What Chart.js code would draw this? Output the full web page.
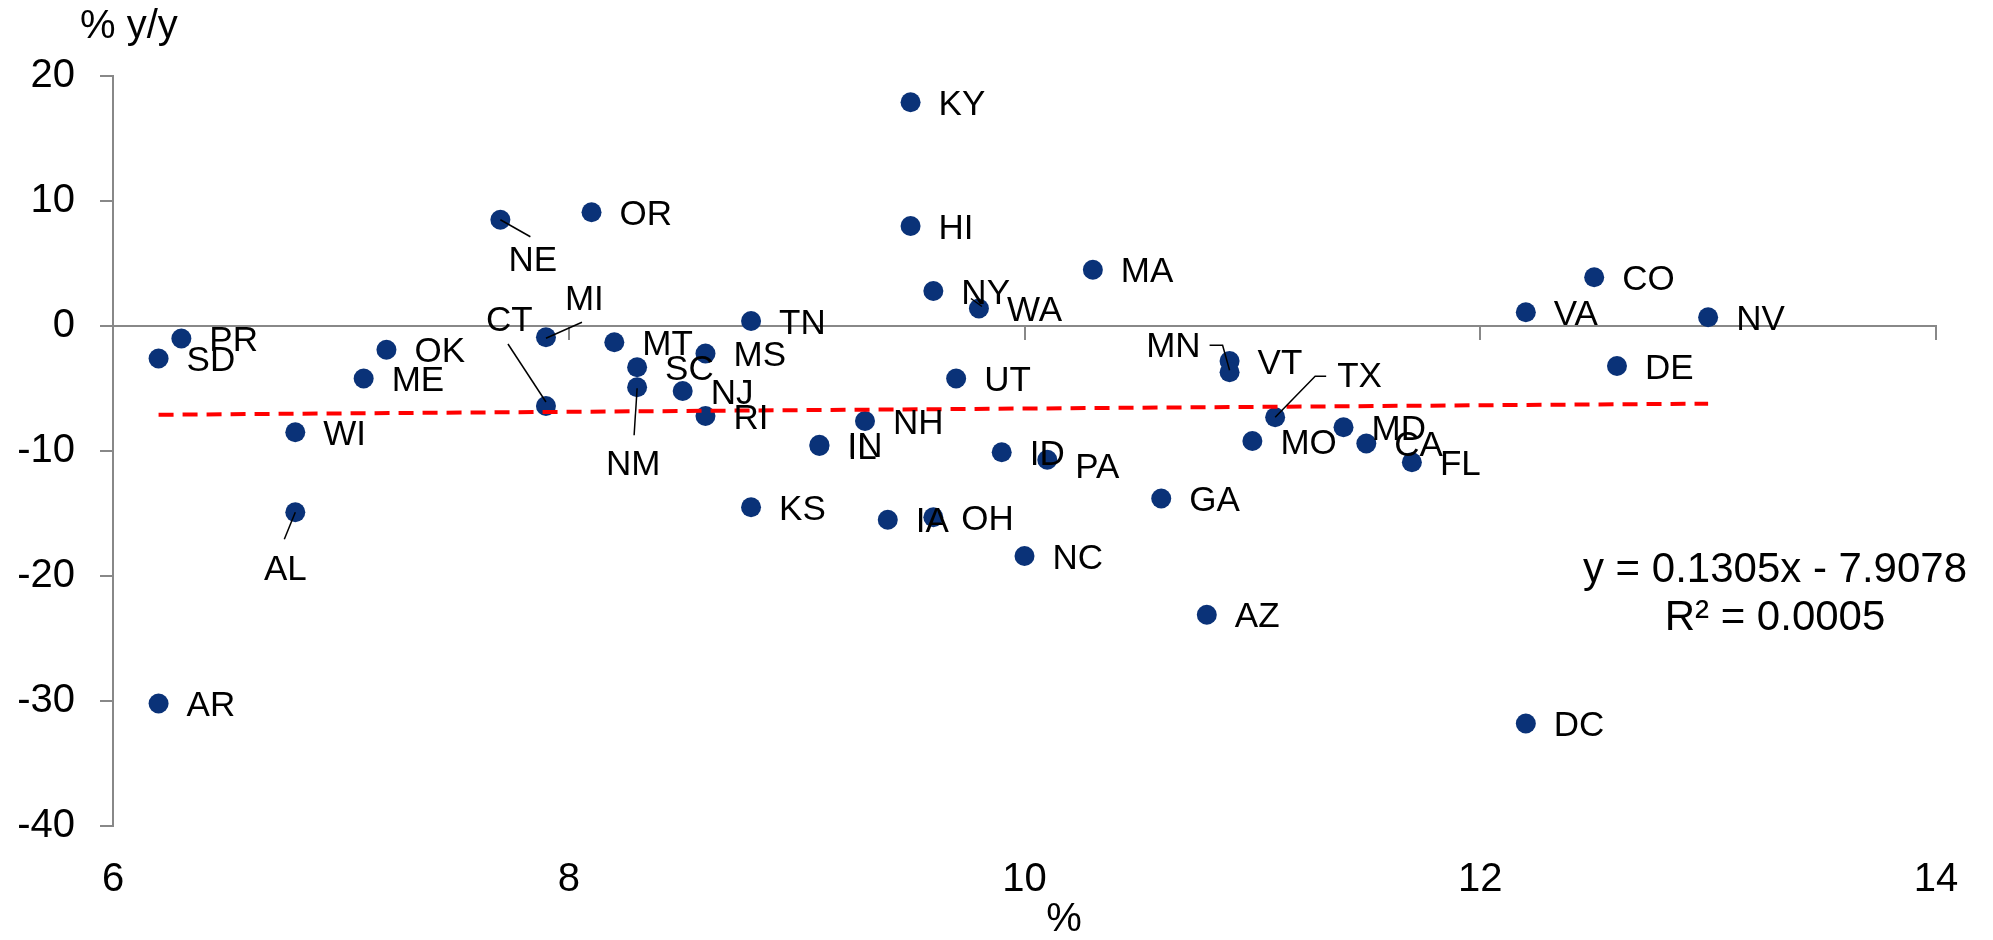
<!DOCTYPE html>
<html>
<head>
<meta charset="utf-8">
<script src="https://cdn.jsdelivr.net/npm/chart.js@4.4.1/dist/chart.umd.min.js"></script>
<style>
  html, body { margin: 0; padding: 0; background: #fff; }
  #wrap { width: 1993px; height: 940px; }
</style>
</head>
<body>
<div id="wrap"><canvas id="scatter" width="1993" height="940"></canvas></div>
<script>
// data
const states = [
  'SD', 'PR', 'AR', 'AL', 'WI', 'ME', 'OK', 'NE', 'MI', 'CT', 'OR', 'MT', 'SC', 'NM',
  'NJ', 'MS', 'RI', 'TN', 'KS', 'IN', 'IL', 'NH', 'IA', 'KY', 'HI', 'NY', 'OH', 'UT',
  'WA', 'ID', 'NC', 'PA', 'MA', 'GA', 'AZ', 'VT', 'MN', 'MO', 'TX', 'MD', 'CA', 'FL',
  'VA', 'DC', 'CO', 'DE', 'NV'
];
const unemployment = [
  6.2, 6.3, 6.2, 6.8, 6.8, 7.1, 7.2, 7.7, 7.9, 7.9, 8.1, 8.2, 8.3, 8.3,
  8.5, 8.6, 8.6, 8.8, 8.8, 9.1, 9.1, 9.3, 9.4, 9.5, 9.5, 9.6, 9.6, 9.7,
  9.8, 9.9, 10.0, 10.1, 10.3, 10.6, 10.8, 10.9, 10.9, 11.0, 11.1, 11.4, 11.5, 11.7,
  12.2, 12.2, 12.5, 12.6, 13.0
];
const changeYoY = [
  -2.6, -1.0, -30.2, -14.9, -8.5, -4.2, -1.9, 8.5, -0.9, -6.4, 9.1, -1.3, -3.3, -4.9,
  -5.2, -2.2, -7.2, 0.4, -14.5, -9.5, -9.6, -7.6, -15.5, 17.9, 8.0, 2.8, -15.3, -4.2,
  1.4, -10.1, -18.4, -10.7, 4.5, -13.8, -23.1, -2.8, -3.7, -9.2, -7.3, -8.1, -9.4, -10.9,
  1.1, -31.8, 3.9, -3.2, 0.7
];
const xTicks = [6, 8, 10, 12, 14];
const yTicks = [-40, -30, -20, -10, 0, 10, 20];
const trendSlope = 0.1305;
const trendIntercept = -7.9078;
const trendText = ['y = 0.1305x - 7.9078', 'R² = 0.0005'];
const xTitle = '%';
const yTitle = '% y/y';

// label placement (pixels from the dot); default is to the right
const defaultPlace = { dx: 28, dy: 3, align: 'left' };
const labelPlace = {
  NE: { dx: 8, dy: 42, align: 'left', leader: [[0, 0], [30, 17]] },
  MI: { dx: 19, dy: -37, align: 'left', leader: [[0, 1], [36, -15]] },
  CT: { dx: -60, dy: -85, align: 'left', leader: [[-38, -62], [0, -4]] },
  NM: { dx: -4, dy: 78, align: 'center', leader: [[0, 1], [-3, 48]] },
  AL: { dx: -10, dy: 58, align: 'center', leader: [[0, 0], [-11, 27]] },
  MN: { dx: -29, dy: -25, align: 'right', leader: [[-20, -27], [-7, -27], [0, -2]] },
  TX: { dx: 62, dy: -40, align: 'left', leader: [[0, 0], [40, -41], [51, -41]] },
  WA: { dx: 28, dy: 3, align: 'left', leader: [[-8, -10], [3, -2]] },
  PA: { dx: 28, dy: 9, align: 'left' }
};

const FONT = '"Liberation Sans", Arial, sans-serif';
const AXIS_GREY = '#888888';

const points = states.map((s, i) => ({ x: unemployment[i], y: changeYoY[i] }));
const xMin = Math.min(...unemployment);
const xMax = Math.max(...unemployment);
const trendPoints = [
  { x: xMin, y: trendSlope * xMin + trendIntercept },
  { x: xMax, y: trendSlope * xMax + trendIntercept }
];

const textPlugin = {
  id: 'textPlugin',
  afterDatasetsDraw(chart) {
    const ctx = chart.ctx;
    const meta = chart.getDatasetMeta(0);
    ctx.save();
    // leader lines
    ctx.strokeStyle = '#000';
    ctx.lineWidth = 1.5;
    meta.data.forEach((pt, i) => {
      const p = labelPlace[states[i]];
      if (!p || !p.leader) return;
      ctx.beginPath();
      p.leader.forEach(([lx, ly], k) => {
        if (k === 0) ctx.moveTo(pt.x + lx, pt.y + ly);
        else ctx.lineTo(pt.x + lx, pt.y + ly);
      });
      ctx.stroke();
    });
    // state labels
    ctx.fillStyle = '#000';
    ctx.font = '35px ' + FONT;
    ctx.textBaseline = 'middle';
    meta.data.forEach((pt, i) => {
      const p = labelPlace[states[i]] || defaultPlace;
      ctx.textAlign = p.align;
      ctx.fillText(states[i], pt.x + p.dx, pt.y + p.dy);
    });
    // trend equation
    ctx.font = '42px ' + FONT;
    ctx.textAlign = 'center';
    ctx.fillText(trendText[0], 1775, 570);
    ctx.fillText(trendText[1], 1775, 618);
    // axis titles
    ctx.font = '40px ' + FONT;
    ctx.textAlign = 'left';
    ctx.fillText(yTitle, 80, 27);
    ctx.textAlign = 'center';
    ctx.fillText(xTitle, 1064, 920);
    ctx.restore();
  }
};

new Chart(document.getElementById('scatter'), {
  type: 'scatter',
  data: {
    datasets: [
      {
        label: 'States',
        data: points,
        pointRadius: 10,
        pointHoverRadius: 10,
        backgroundColor: '#0a3278',
        borderWidth: 0,
        order: 2
      },
      {
        type: 'line',
        label: 'Trend',
        data: trendPoints,
        borderColor: '#ff0000',
        borderWidth: 4,
        borderDash: [15, 9],
        pointRadius: 0,
        fill: false,
        order: 1
      }
    ]
  },
  options: {
    responsive: false,
    animation: false,
    devicePixelRatio: 1,
    layout: { padding: { top: 76, right: 57, left: 0, bottom: 0 } },
    plugins: {
      legend: { display: false },
      tooltip: { enabled: false }
    },
    scales: {
      x: {
        type: 'linear',
        position: 'bottom',
        min: xTicks[0],
        max: xTicks[xTicks.length - 1],
        afterBuildTicks: (s) => { s.ticks = xTicks.map(v => ({ value: v })); },
        ticks: { color: '#000', font: { size: 40, family: FONT }, padding: 30 },
        grid: { display: false, drawTicks: false },
        border: { display: false },
        afterFit: (s) => { s.height = 114; }
      },
      xZero: {
        type: 'linear',
        axis: 'x',
        position: { y: 0 },
        min: xTicks[0],
        max: xTicks[xTicks.length - 1],
        afterBuildTicks: (s) => { s.ticks = xTicks.map(v => ({ value: v })); },
        ticks: { display: false },
        grid: { drawOnChartArea: false, drawTicks: true, tickLength: 13, color: AXIS_GREY, lineWidth: 2 },
        border: { color: AXIS_GREY, width: 2 }
      },
      y: {
        type: 'linear',
        min: yTicks[0],
        max: yTicks[yTicks.length - 1],
        afterBuildTicks: (s) => { s.ticks = yTicks.map(v => ({ value: v })); },
        ticks: { color: '#000', font: { size: 40, family: FONT }, padding: 25 },
        grid: { drawOnChartArea: false, drawTicks: true, tickLength: 13, color: AXIS_GREY, lineWidth: 2 },
        border: { color: AXIS_GREY, width: 2 },
        afterFit: (s) => { s.width = 113; }
      }
    }
  },
  plugins: [textPlugin]
});
</script>
</body>
</html>
